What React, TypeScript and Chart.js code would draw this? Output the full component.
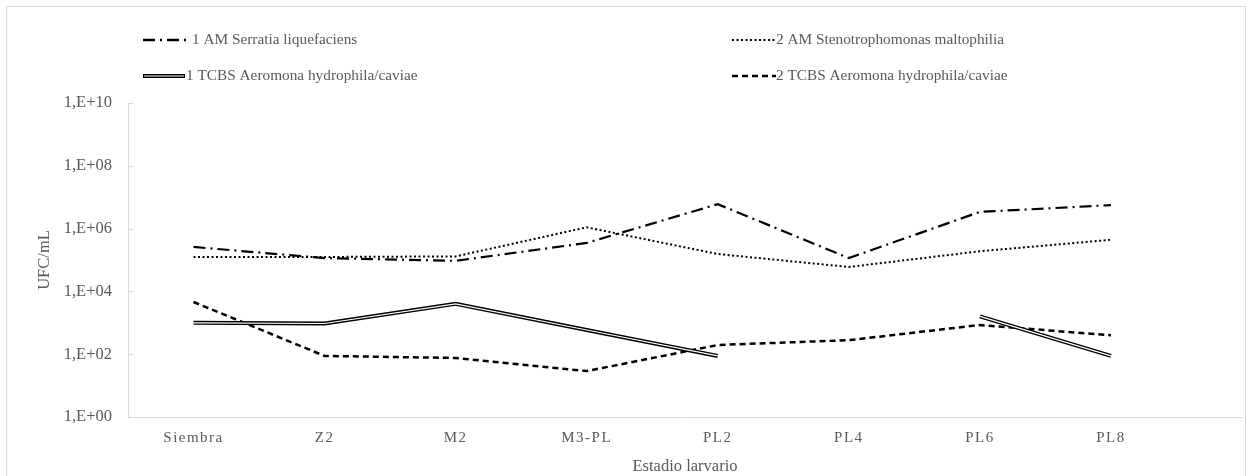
import React, { useEffect, useRef } from "react";
import { Chart, LinearScale, registerables } from "chart.js";

Chart.register(...registerables);

class SpacedLinearScale extends (LinearScale as any) {
  static id = "spacedLinear";
  static defaults = (LinearScale as any).defaults;
  drawLabels(chartArea: any) {
    const ctx = (this as any).ctx;
    ctx.save();
    ctx.letterSpacing = "1.5px";
    super.drawLabels(chartArea);
    ctx.restore();
  }
}
Chart.register(SpacedLinearScale as any);

const categories = ["Siembra", "Z2", "M2", "M3-PL", "PL2", "PL4", "PL6", "PL8"];
const serratia = [2.6e5, 1.15e5, 9.4e4, 3.5e5, 6.0e6, 1.15e5, 3.4e6, 5.6e6];
const steno = [1.25e5, 1.25e5, 1.3e5, 1.1e6, 1.55e5, 6.0e4, 1.9e5, 4.4e5];
const tcbs1 = [1.0e3, 9.5e2, 4.0e3, 5.9e2, 88, null, 1.6e3, 88];
const tcbs2 = [4.6e3, 88, 76, 29, 196, 280, 850, 400];
const yTickExponents = [0, 2, 4, 6, 8, 10];
const seriesNames = [
  "1 AM Serratia liquefaciens",
  "2 AM Stenotrophomonas maltophilia",
  "1 TCBS Aeromona hydrophila/caviae",
  "2 TCBS Aeromona hydrophila/caviae",
];
const xTitle = "Estadio larvario";
const yTitle = "UFC/mL";
const xMin = 0.5;
const xMax = categories.length + 1;

const FONT = '"Liberation Serif", "Times New Roman", serif';
const TEXT = "#595959";
const AXIS = "#d9d9d9";

const dashDot = [12, 5, 2, 5];
const dotted = [2, 2.5];
const dashed = [6, 4];

const toPoints = (arr: (number | null)[]) => arr.map((y, i) => ({ x: i + 1, y }));

const legendPlugin = {
  id: "customLegend",
  afterDraw(chart: any) {
    const ctx = chart.ctx;
    ctx.save();
    ctx.font = `15.3px ${FONT}`;
    ctx.fillStyle = TEXT;
    ctx.textBaseline = "middle";
    const entries = [
      { x: 136, y: 33, kind: "dashdot", label: seriesNames[0], tx: 185 },
      { x: 725, y: 33, kind: "dotted", label: seriesNames[1], tx: 769 },
      { x: 136, y: 69, kind: "double", label: seriesNames[2], tx: 179 },
      { x: 725, y: 69, kind: "dashed", label: seriesNames[3], tx: 769 },
    ];
    for (const e of entries) {
      const x0 = e.x;
      const x1 = e.kind === "double" ? e.x + 42 : e.x + 44;
      ctx.save();
      ctx.strokeStyle = "#000";
      if (e.kind === "double") {
        ctx.lineWidth = 4;
        ctx.beginPath(); ctx.moveTo(x0, e.y); ctx.lineTo(x1, e.y); ctx.stroke();
        ctx.strokeStyle = "#fff";
        ctx.lineWidth = 1.2;
        ctx.beginPath(); ctx.moveTo(x0 + 1, e.y); ctx.lineTo(x1 - 1, e.y); ctx.stroke();
      } else {
        ctx.lineWidth = e.kind === "dotted" ? 2 : 2.5;
        ctx.setLineDash(e.kind === "dashdot" ? dashDot : e.kind === "dotted" ? dotted : dashed);
        ctx.beginPath(); ctx.moveTo(x0, e.y); ctx.lineTo(x1, e.y); ctx.stroke();
      }
      ctx.restore();
      ctx.fillText(e.label, e.tx, e.y);
    }
    const ys = chart.scales.y;
    ctx.strokeStyle = AXIS;
    ctx.lineWidth = 1;
    for (const t of ys.ticks) {
      const py = Math.round(ys.getPixelForValue(t.value)) + 0.5;
      ctx.beginPath();
      ctx.moveTo(chart.chartArea.left, py);
      ctx.lineTo(chart.chartArea.left + 5, py);
      ctx.stroke();
    }
    ctx.restore();
  },
};

export default function App() {
  const ref = useRef<HTMLCanvasElement | null>(null);
  useEffect(() => {
    if (!ref.current) return;
    const chart = new Chart(ref.current, {
      type: "line",
      data: {
        datasets: [
          { label: "inner", data: toPoints(tcbs1), borderColor: "#ffffff", borderWidth: 1.2, pointRadius: 0, order: 0 },
          { label: seriesNames[2], data: toPoints(tcbs1), borderColor: "#000000", borderWidth: 4, pointRadius: 0, order: 1 },
          { label: seriesNames[0], data: toPoints(serratia), borderColor: "#000000", borderWidth: 2.2, borderDash: dashDot, pointRadius: 0, order: 2 },
          { label: seriesNames[1], data: toPoints(steno), borderColor: "#000000", borderWidth: 2, borderDash: dotted, pointRadius: 0, order: 3 },
          { label: seriesNames[3], data: toPoints(tcbs2), borderColor: "#000000", borderWidth: 2.5, borderDash: dashed, pointRadius: 0, order: 4 },
        ] as any,
      },
      options: {
        responsive: false,
        animation: false,
        layout: { padding: { top: 96, right: 3, left: 0, bottom: 0 } },
        plugins: { legend: { display: false }, tooltip: { enabled: false } },
        scales: {
          x: {
            type: "spacedLinear" as any,
            min: xMin,
            max: xMax,
            grid: { display: false, drawTicks: false },
            border: { display: true, color: AXIS, width: 1 },
            afterBuildTicks(scale: any) {
              scale.ticks = categories.map((_, i) => ({ value: i + 1 }));
            },
            ticks: {
              color: TEXT,
              font: { family: FONT, size: 15 },
              padding: 12,
              maxRotation: 0,
              autoSkip: false,
              callback: (v: any) => categories[Math.round(Number(v)) - 1] ?? "",
            },
            title: { display: true, text: xTitle, color: TEXT, font: { family: FONT, size: 16.5 }, padding: { top: 0, bottom: 8 } },
            afterFit(scale: any) { scale.height = 68; },
          },
          y: {
            type: "logarithmic",
            min: 1,
            max: 1e10,
            grid: { display: false, drawTicks: false },
            border: { display: true, color: AXIS, width: 1 },
            afterBuildTicks(scale: any) {
              scale.ticks = yTickExponents.map((e) => ({ value: Math.pow(10, e) }));
            },
            ticks: {
              color: TEXT,
              font: { family: FONT, size: 16.5 },
              padding: 16,
              callback: (v: any) => {
                const e = Math.round(Math.log10(Number(v)));
                return `1,E+${String(e).padStart(2, "0")}`;
              },
            },
            title: { display: true, text: yTitle, color: TEXT, font: { family: FONT, size: 16.5 }, padding: { top: 28, bottom: 0 } },
            afterFit(scale: any) { scale.width = 121; },
          },
        },
      },
      plugins: [legendPlugin],
    });
    return () => chart.destroy();
  }, []);
  return (
    <div style={{ position: "absolute", left: 6, top: 6, width: 1238, height: 478, border: `1px solid ${AXIS}`, background: "#fff" }}>
      <canvas ref={ref} width={1238} height={478} style={{ display: "block" }} />
    </div>
  );
}
